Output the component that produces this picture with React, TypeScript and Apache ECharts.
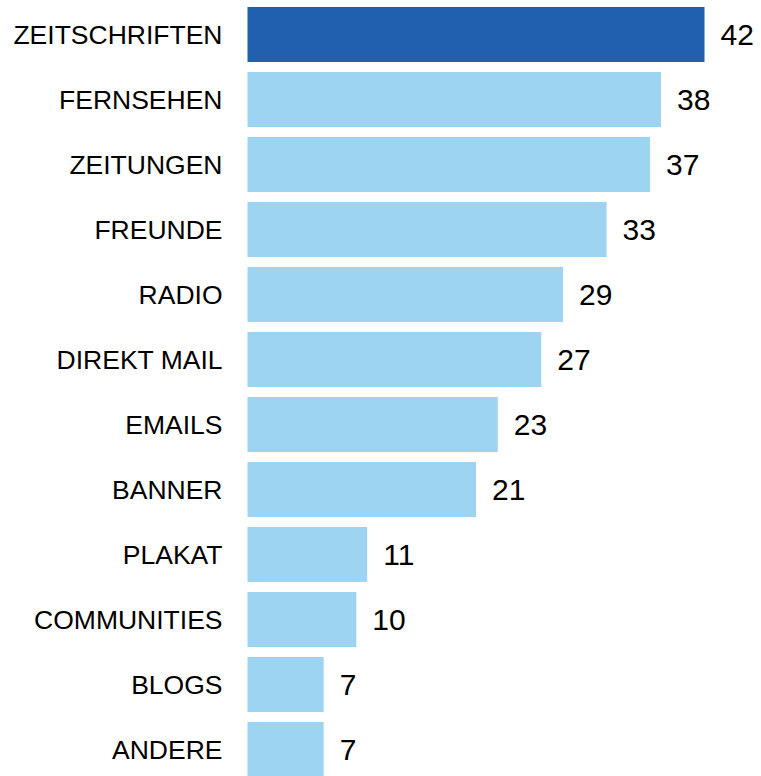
import React, { useEffect, useRef } from "react";
import * as echarts from "echarts";

const categories = [
  "ZEITSCHRIFTEN",
  "FERNSEHEN",
  "ZEITUNGEN",
  "FREUNDE",
  "RADIO",
  "DIREKT MAIL",
  "EMAILS",
  "BANNER",
  "PLAKAT",
  "COMMUNITIES",
  "BLOGS",
  "ANDERE",
];
const values = [42, 38, 37, 33, 29, 27, 23, 21, 11, 10, 7, 7];

const DARK = "#2060ae";
const LIGHT = "#9dd4f2";
const FONT = "'Liberation Sans', Arial, Helvetica, sans-serif";

export default function App() {
  const ref = useRef<HTMLDivElement>(null);
  useEffect(() => {
    if (!ref.current) return;
    const chart = echarts.init(ref.current, undefined, { renderer: "svg" });
    chart.setOption({
      animation: false,
      grid: { left: 247.5, top: 2, width: 457, height: 780, containLabel: false },
      xAxis: {
        type: "value",
        min: 0,
        max: 42,
        show: false,
      },
      yAxis: {
        type: "category",
        data: categories,
        inverse: true,
        axisLine: { show: false },
        axisTick: { show: false },
        splitLine: { show: false },
        axisLabel: {
          margin: 25,
          fontSize: 26.5,
          color: "#000",
          fontFamily: FONT,
        },
      },
      series: [
        {
          type: "bar",
          barWidth: 55,
          data: values.map((v, i) => ({
            value: v,
            itemStyle: { color: i === 0 ? DARK : LIGHT },
          })),
          label: {
            show: true,
            position: "right",
            distance: 16,
            fontSize: 30,
            color: "#000",
            fontFamily: FONT,
          },
        },
      ],
    });
    return () => chart.dispose();
  }, []);
  return (
    <div
      style={{ position: "absolute", left: 0, top: 0, width: 761, height: 776, overflow: "hidden" }}
    >
      <div ref={ref} style={{ width: 761, height: 800 }} />
    </div>
  );
}
